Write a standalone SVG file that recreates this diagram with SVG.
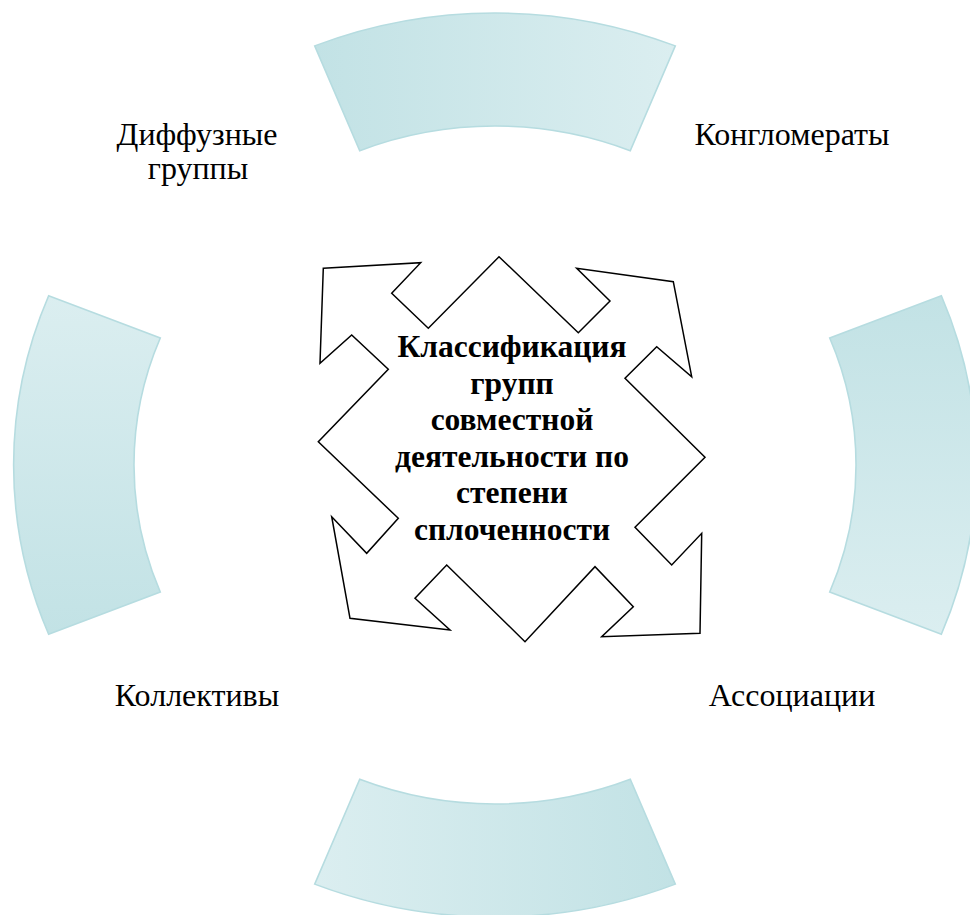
<svg xmlns="http://www.w3.org/2000/svg" width="970" height="915" viewBox="0 0 970 915">
<style>
.sector{stroke:#b6dce0;stroke-width:1.5;fill:url(#g)}
.lbl{font-family:"Liberation Serif","Times New Roman",serif;font-size:32px;fill:#000;text-anchor:middle}
.ctr{font-family:"Liberation Serif","Times New Roman",serif;font-size:31.5px;font-weight:bold;fill:#000;text-anchor:middle}
.arrow{fill:#fff;stroke:#000;stroke-width:1.5;stroke-linejoin:miter}
</style>
<defs>
<linearGradient id="g" x1="0" y1="0" x2="1" y2="0">
<stop offset="0" stop-color="#c2e2e5"/>
<stop offset="1" stop-color="#dbeef0"/>
</linearGradient>
<path id="sec" d="M -169.3 -419.1 A 452 452 0 0 1 169.3 -419.1 L 127 -314.3 A 339 339 0 0 0 -127 -314.3 Z"/>
</defs>
<rect width="970" height="915" fill="#fff"/>
<g id="sector-top"><use href="#sec" class="sector" transform="translate(495,465) scale(1.065,1)"/></g>
<g id="sector-right"><use href="#sec" class="sector" transform="translate(495,465) scale(1.065,1) rotate(90)"/></g>
<g id="sector-bottom"><use href="#sec" class="sector" transform="translate(495,465) scale(1.065,1) rotate(180)"/></g>
<g id="sector-left"><use href="#sec" class="sector" transform="translate(495,465) scale(1.065,1) rotate(270)"/></g>
<g id="center">
<polygon class="arrow" points="323.3,268.3 420.7,262.7 391.7,293.3 428.3,328.3 499,256.7 578.3,332.7 610,301 576.7,268.3 673.3,281.7 691.7,376.7 656.7,346.7 625,378.3 705,457.3 635,527.3 671.7,565 701.7,533.3 700,633.3 601.7,636.7 633.3,606.7 595,566.7 525,641.7 446.7,565 415,598.3 450,630 350,618.3 331.7,516.7 366.7,553.3 398.3,518.3 318.3,441.7 388.3,369.3 351.7,335 320,363.3"/>
<text class="ctr" x="512" y="357">Классификация</text>
<text class="ctr" x="512" y="394">групп</text>
<text class="ctr" x="512" y="430">совместной</text>
<text class="ctr" x="512" y="467">деятельности по</text>
<text class="ctr" x="512" y="503">степени</text>
<text class="ctr" x="512" y="540">сплоченности</text>
</g>
<g id="label-diffuse"><text class="lbl" x="197" y="145">Диффузные</text><text class="lbl" x="198" y="179">группы</text></g>
<g id="label-conglomerates"><text class="lbl" x="792" y="145">Конгломераты</text></g>
<g id="label-collectives"><text class="lbl" x="197" y="706">Коллективы</text></g>
<g id="label-associations"><text class="lbl" x="792" y="706">Ассоциации</text></g>
<g id="connectors"></g>
</svg>
